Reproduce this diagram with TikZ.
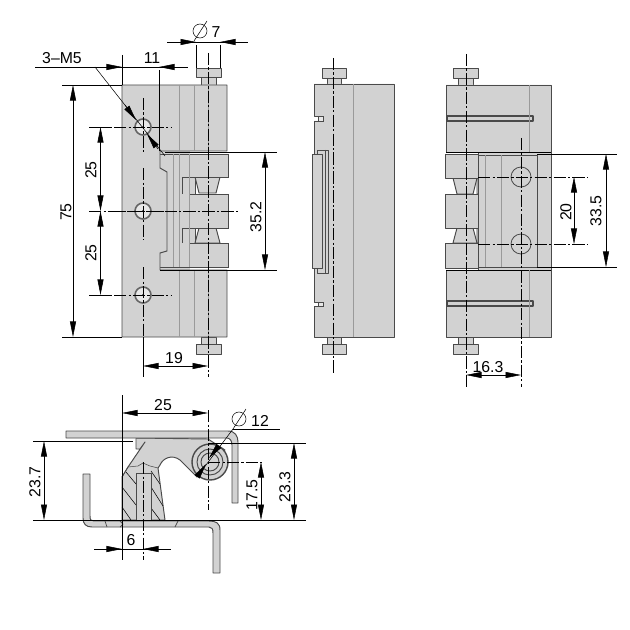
\documentclass[tikz,border=0pt]{standalone}
\usepackage{fontspec}
\setmainfont{Liberation Sans}
\usetikzlibrary{arrows.meta}
\definecolor{partgray}{HTML}{D2D2D2}
\definecolor{edgegray}{HTML}{4A4A4A}
\definecolor{seamgray}{HTML}{9A9A9A}
\begin{document}
\begin{tikzpicture}[x=0.04cm, y=-0.04cm,
  part/.style={draw=edgegray, fill=partgray, line width=1.1pt, line join=round},
  seam/.style={draw=seamgray, line width=0.8pt},
  hole/.style={draw=edgegray!85, fill=partgray!50, line width=1.8pt},
  thin line/.style={draw=black, line width=0.6pt},
  center line/.style={draw=black, line width=0.6pt, dash pattern=on 14pt off 2.5pt on 2.5pt off 2.5pt},
  tip/.style={draw=black, line width=0.6pt, -{Triangle[length=0.62cm, width=0.24cm]}},
  both tips/.style={draw=black, line width=0.6pt, {Triangle[length=0.62cm, width=0.24cm]}-{Triangle[length=0.62cm, width=0.24cm]}},
  label/.style={font=\fontsize{18}{20}\selectfont, inner sep=0pt},
  side label/.style={label, rotate=90}]
\useasboundingbox (0,0) rectangle (630,630);
\fill[white] (0,0) rectangle (630,630);

% front view
\path[part] (196,68) rectangle (221,77);
\path[part] (201,77) rectangle (216,85);
\path[part] (196,344) rectangle (221,354);
\path[part] (201,337) rectangle (216,344);
\fill[partgray] (160,151) rectangle (190,270);
\foreach \y/\z in {177/194,228/243} \path[part] (182,\y) rectangle (195,\z);
\path[part] (195,177) -- (220,177) -- (216,193) -- (199,193) -- cycle;
\path[part] (199,228) -- (216,228) -- (220,243) -- (195,243) -- cycle;
\foreach \y/\z in {154/177,194/228,243/267} {
  \fill[partgray] (167,\y) rectangle (228,\z);
  \path[draw=edgegray, line width=1.1pt] (190,\y) -- (228,\y) -- (228,\z) -- (190,\z);
}
\path[draw=edgegray, line width=1.1pt] (160,154) -- (190,154);
\path[draw=edgegray, line width=1.1pt] (160,267) -- (190,267);
\path[part] (122,85) -- (227,85) -- (227,151) -- (160,151) -- (160,168) -- (167,172) -- (167,251) -- (160,253) -- (160,270) -- (227,270) -- (227,337) -- (122,337) -- cycle;
\foreach \x in {179,194,208} {
  \path[seam] (\x,85) -- (\x,151);
  \path[seam] (\x,270) -- (\x,337);
}
\foreach \x in {173,179,189} \path[seam] (\x,154) -- (\x,267);
\foreach \y in {127,211,295} {
  \path[hole] (143,\y) circle (8);
  \fill[black] (143,\y) circle (0.8);
  \path[center line] (114,\y) -- (171,\y);
}
\path[center line] (143,98) -- (143,152);
\path[center line] (143,168) -- (143,240);
\path[center line] (143,267) -- (143,337);
\path[center line] (208,53) -- (208,377);
\path[center line] (89,211) -- (240,211);

% leader and dimensions of the front view
\node[label] (m5) at (62,58) {3--M5};
\path[thin line] (35,67) -- (188,67);
\path[thin line] (95,67) -- (165,156);
\path[tip] (125,105) -- (136,120);
\path[tip] (158,149) -- (147,134);
\path[tip] (105,67) -- (122,67);
\path[tip] (177,67) -- (159,67);
\path[thin line] (122,55) -- (122,85);
\path[thin line] (159,70) -- (159,151);
\node[label] (w11) at (152,58) {11};
\path[thin line] (167,42) -- (248,42);
\path[tip] (178,42) -- (196,42);
\path[tip] (237,42) -- (220,42);
\path[thin line] (196,45) -- (196,68);
\path[thin line] (220,45) -- (220,68);
\node[label] (d7) at (216,32) {7};
\path[thin line] (200,31) circle (7);
\path[thin line] (194,41) -- (207,21);
\path[thin line] (62,85) -- (122,85);
\path[thin line] (62,337) -- (122,337);
\path[both tips] (73,85) -- (73,337);
\node[side label] (h75) at (66,212) {75};
\path[thin line] (89,127) -- (112,127);
\path[thin line] (89,295) -- (112,295);
\path[both tips] (100.5,127) -- (100.5,211);
\path[both tips] (100.5,211) -- (100.5,295);
\node[side label] (h25a) at (91,170) {25};
\node[side label] (h25b) at (91,253) {25};
\path[thin line] (165,152) -- (277,152);
\path[thin line] (160,270) -- (277,270);
\path[both tips] (265,152) -- (265,270);
\node[side label] (h352) at (256,217) {35.2};
\path[thin line] (143,337) -- (143,377);
\path[both tips] (143,366) -- (208,366);
\node[label] (w19) at (174,358) {19};

% side view
\path[part] (322,68) rectangle (346,78);
\path[part] (327,78) rectangle (341,84);
\path[part] (322,344) rectangle (346,354);
\path[part] (327,337) rectangle (341,344);
\path[part] (314,84) -- (394,84) -- (394,337) -- (314,337) -- (314,306) -- (318,306) -- (318,302) -- (314,302) -- (314,121) -- (318,121) -- (318,116) -- (314,116) -- cycle;
\path[draw=edgegray, fill=partgray!50, line width=0.8pt] (318,116) rectangle (323,121);
\path[draw=edgegray, fill=partgray!50, line width=0.8pt] (318,302) rectangle (323,306);
\path[seam] (353,84) -- (353,337);
\path[part] (317,150) -- (328,150) -- (328,273) -- (317,273) -- cycle;
\path[part] (312,154) rectangle (322,268);
\path[thin line, edgegray] (325,150) -- (325,273);
\path[center line] (333,58) -- (333,373);

% rear view
\path[part] (453,68) rectangle (478,78);
\path[part] (458,78) rectangle (473,85);
\path[part] (453,344) rectangle (478,354);
\path[part] (458,337) rectangle (473,344);
\path[part] (477,178) -- (484,178) -- (484,190) -- (481,194) -- (477,194) -- cycle;
\path[part] (477,228) -- (481,228) -- (484,231) -- (484,243) -- (477,243) -- cycle;
\path[part] (453,178) -- (477,178) -- (473,194) -- (457,194) -- cycle;
\path[part] (457,228) -- (473,228) -- (477,243) -- (453,243) -- cycle;
\path[part] (478,152) -- (446,152) -- (446,85) -- (551,85) -- (551,337) -- (446,337) -- (446,270) -- (478,270) -- cycle;
\foreach \y/\z in {154/178,194/228,243/268} \path[part] (445,\y) rectangle (478,\z);
\path[part] (478,155) rectangle (537,267);
\path[thin line] (446,152.5) -- (551,152.5);
\path[thin line] (446,270) -- (551,270);
\foreach \y in {116,301} \path[part, line width=1.3pt] (447,\y) rectangle (533,\y+5);
\path[seam] (529,85) -- (529,152);
\path[seam] (529,270) -- (529,337);
\foreach \x in {485,501} \path[seam] (\x,155) -- (\x,267);
\foreach \y in {177,244} {
  \path[draw=edgegray, fill=partgray, line width=0.9pt] (521,\y) circle (10);
  \path[center line] (478,\y) -- (587,\y);
}
\path[center line] (466,54) -- (466,387);
\path[center line] (521,138) -- (521,387);

% dimensions of the rear view
\path[both tips] (574,177) -- (574,244);
\node[side label] (h20) at (566,212) {20};
\path[thin line] (537,154) -- (617,154);
\path[thin line] (537,267) -- (617,267);
\path[both tips] (606,154) -- (606,267);
\node[side label] (h335) at (596,211) {33.5};
\path[both tips] (466,375) -- (521,375);
\node[label] (w163) at (488,367) {16.3};

% section view
\path[part] (83,474) -- (90,474) -- (90,516) .. controls (90,520) and (91,521) .. (94,521) -- (209,521) .. controls (216,521) and (220,523) .. (220,530) -- (220,573) -- (213,573) -- (213,533) .. controls (213,529) and (212,527) .. (209,527) -- (92,527) .. controls (86,527) and (83,524) .. (83,518) -- cycle;
\path[seam, edgegray] (105,521) -- (107,527);
\path[seam, edgegray] (120,521) -- (123,524) -- (120,527);
\path[seam, edgegray] (178,521) -- (175,527);
\path[part] (136,438) -- (136,449) -- (140,449) -- (145,442) -- (128,467) -- (122,477) -- (122,520) -- (165,520) -- (158,468) -- (160,465) .. controls (163,458) and (172,454) .. (180,460) -- (197,477) -- (225,450) -- (208,439) -- cycle;
\path[thin line, edgegray] (122,477) -- (128,467) -- (138,466) -- (143,463) -- (150,466) -- (158,468);
\foreach \x/\y/\u/\v in {122/487/136/505, 122/507/131/520, 126/472/136/484, 151/471/160/484, 151/487/163/506, 151/508/160/520} \path[thin line] (\x,\y) -- (\u,\v);
\path[part] (136,473) rectangle (151,520);
\path[part] (66,431) -- (228,431) .. controls (235,431) and (238,436) .. (238,442) -- (238,503) -- (232,503) -- (232,445) .. controls (232,441) and (230,438) .. (227,438) -- (66,438) -- cycle;
\path[part, line width=1.6pt] (210,462) circle (18);
\foreach \r in {13,9} \path[draw=edgegray, line width=1.1pt] (210,462) circle (\r);

% dimensions of the section view
\path[center line] (143,462) -- (143,560);
\path[center line] (208,410) -- (208,510);
\path[center line] (208,462) -- (263,462);
\path[thin line] (122,395) -- (122,560);
\path[both tips] (122,413) -- (208,413);
\node[label] (w25) at (163,405) {25};
\path[thin line] (233,429) -- (280,429);
\path[thin line] (233,429) -- (197,477);
\path[tip] (218,447) -- (209,458);
\path[tip] (197,477) -- (206,464);
\path[thin line] (239,419) circle (7);
\path[thin line] (233,429) -- (246,409);
\node[label] (d12) at (260,421) {12};
\path[thin line] (33,441) -- (133,441);
\path[thin line] (33,520) -- (306,520);
\path[thin line] (208,443) -- (306,443);
\path[both tips] (44,441) -- (44,520);
\node[side label] (h237) at (35,482) {23.7};
\path[both tips] (294,443) -- (294,520);
\node[side label] (h233) at (285,487) {23.3};
\path[both tips] (261,462) -- (261,520);
\node[side label] (h175) at (252,495) {17.5};
\path[thin line] (94,549) -- (171,549);
\path[tip] (105,549) -- (122,549);
\path[tip] (160,549) -- (143,549);
\node[label] (w6) at (131,540) {6};
\end{tikzpicture}
\end{document}
